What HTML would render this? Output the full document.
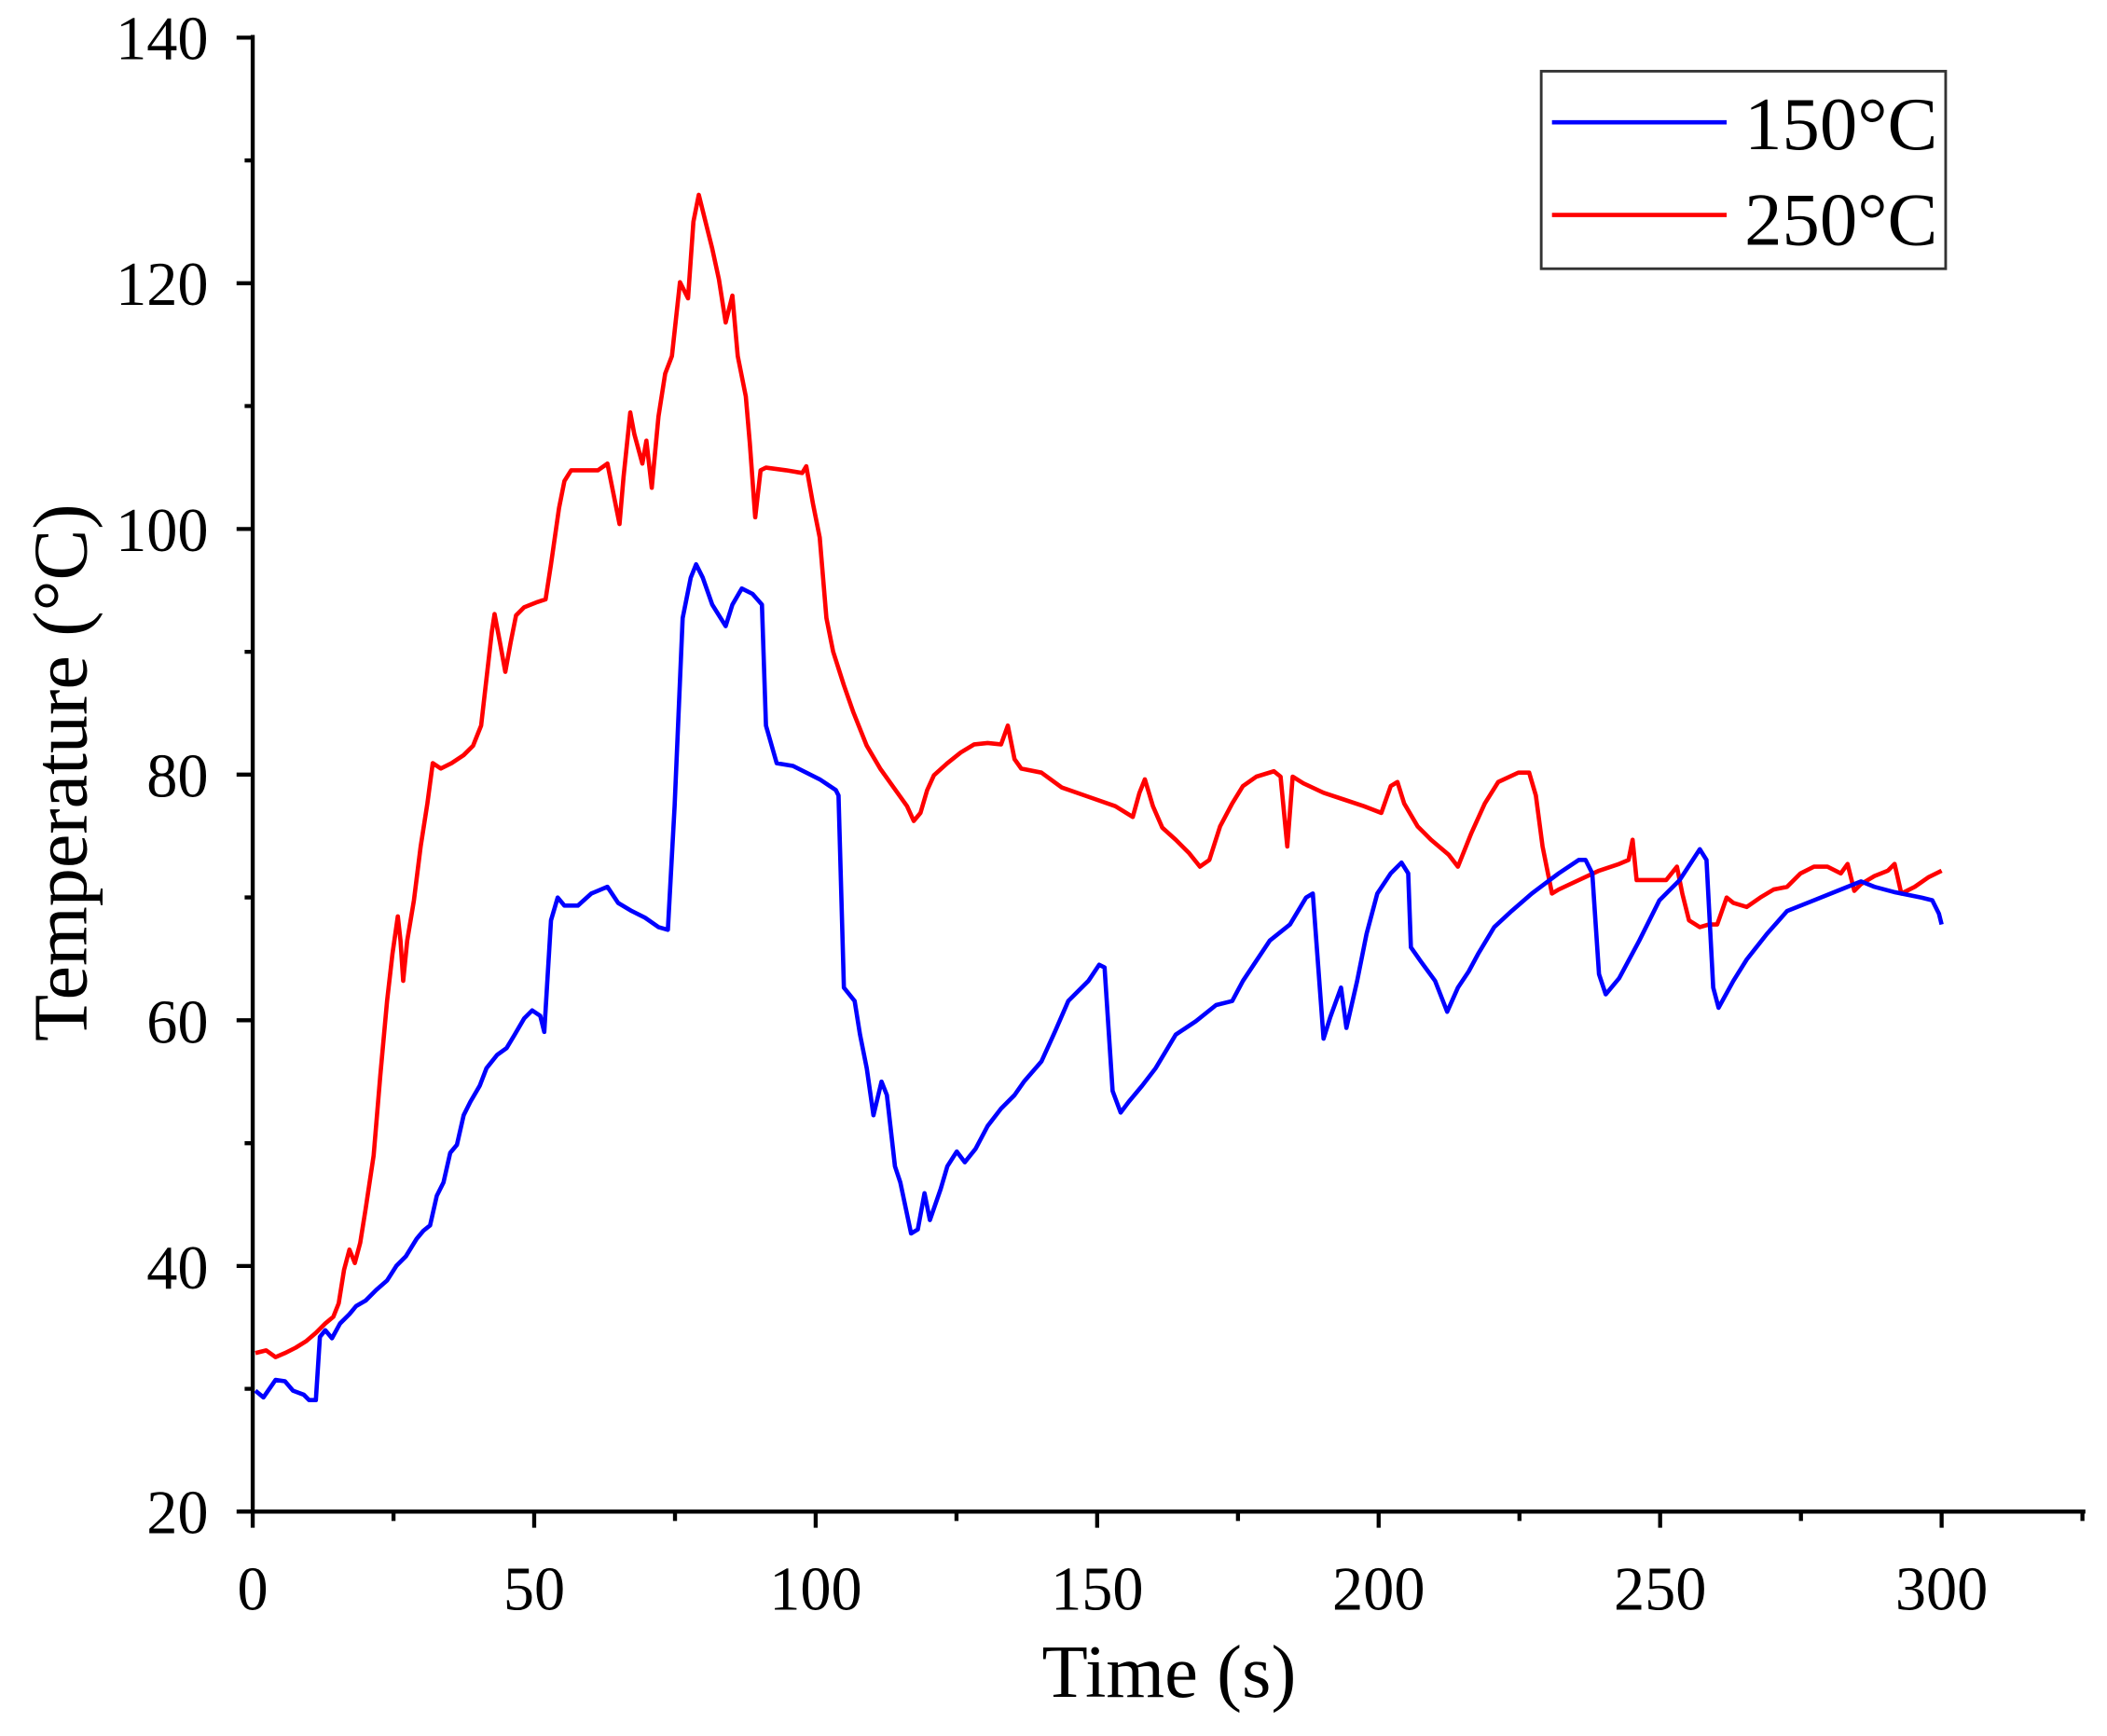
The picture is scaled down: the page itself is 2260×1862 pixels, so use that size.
<!DOCTYPE html>
<html><head><meta charset="utf-8"><style>
html,body{margin:0;padding:0;background:#fff;}
svg{display:block;}
text{font-family:"Liberation Serif",serif;fill:#000;}
</style></head><body>
<svg width="2260" height="1862" viewBox="0 0 1568 1292" xmlns="http://www.w3.org/2000/svg">
<rect width="1568" height="1292" fill="#fff"/>
<g stroke="#000" stroke-width="3" fill="none">
<line x1="188" y1="26" x2="188" y2="1126"/>
<line x1="178" y1="1125" x2="1552" y2="1125"/>
<path d="M176 28H188M176 210.8H188M176 393.7H188M176 576.5H188M176 759.3H188M176 942.2H188M176 1125H188"/>
<path d="M182 119.4H188M182 302.2H188M182 485.1H188M182 667.9H188M182 850.8H188M182 1033.6H188"/>
<path d="M188 1125V1137M397.5 1125V1137M607 1125V1137M816.5 1125V1137M1026 1125V1137M1235.5 1125V1137M1445 1125V1137"/>
<path d="M292.8 1125V1132M502.3 1125V1132M711.8 1125V1132M921.3 1125V1132M1130.8 1125V1132M1340.3 1125V1132M1549.8 1125V1132"/>
</g>
<g font-size="46" text-anchor="end">
<text x="155" y="44">140</text><text x="155" y="227">120</text><text x="155" y="410">100</text>
<text x="155" y="593">80</text><text x="155" y="776">60</text><text x="155" y="959">40</text><text x="155" y="1141">20</text>
</g>
<g font-size="46" text-anchor="middle">
<text x="188" y="1198">0</text><text x="397.5" y="1198">50</text><text x="607" y="1198">100</text>
<text x="816.5" y="1198">150</text><text x="1026" y="1198">200</text><text x="1235.5" y="1198">250</text><text x="1445" y="1198">300</text>
</g>
<text x="870" y="1263" font-size="56" text-anchor="middle">Time (s)</text>
<text transform="translate(64,575) rotate(-90)" font-size="57" text-anchor="middle">Temperature (°C)</text>
<polyline fill="none" stroke="#ff0000" stroke-width="3.2" stroke-linejoin="round" points="190,1007 198,1005 205,1010 212,1007 220,1003 228,998 235,992 242,985 248,980 252,970 256,945 260,930 264,940 268,925 272,900 278,860 283,800 288,745 292,710 296,682 298,700 300,730 303,700 308,670 313,630 318,598 322,568 328,572 336,568 345,562 352,555 358,540 362,505 366,470 368,457 372,478 376,500 380,478 384,458 390,452 400,448 406,446 410,420 416,378 420,358 425,350 435,350 445,350 452,345 456,365 461,390 464,355 469,307 472,323 478,345 481,328 485,363 490,310 495,278 500,265 506,210 512,222 516,165 520,145 525,165 530,185 535,208 540,240 545,220 549,265 555,295 558,330 562,385 566,350 570,348 585,350 597,352 600,347 605,375 610,400 615,460 620,485 628,510 635,530 645,555 655,572 665,586 675,600 680,611 685,605 690,588 695,577 705,568 715,560 725,554 735,553 745,554 750,540 755,565 760,572 775,575 790,586 810,593 830,600 843,608 848,590 852,580 858,600 865,616 875,625 885,635 893,645 900,640 908,615 917,598 925,585 935,578 948,574 953,578 958,630 962,578 970,583 985,590 1000,595 1015,600 1028,605 1035,585 1040,582 1045,598 1055,615 1065,625 1078,636 1085,645 1095,620 1105,598 1115,582 1130,575 1138,575 1143,592 1148,630 1155,665 1160,662 1175,655 1190,648 1205,643 1212,640 1215,625 1218,655 1225,655 1240,655 1248,645 1252,665 1257,685 1265,690 1272,688 1278,688 1285,668 1290,672 1300,675 1310,668 1320,662 1330,660 1340,650 1350,645 1360,645 1370,650 1375,643 1380,663 1385,658 1395,652 1405,648 1410,643 1415,665 1425,660 1435,653 1445,648"/>
<polyline fill="none" stroke="#0000ff" stroke-width="3.2" stroke-linejoin="round" points="190,1035 196,1040 205,1027 212,1028 218,1035 226,1038 230,1042 235,1042 238,995 242,990 247,996 253,985 260,978 265,972 272,968 280,960 288,953 295,942 302,935 310,922 315,916 320,912 325,890 330,880 335,858 340,852 345,830 350,820 357,808 362,795 370,785 377,780 383,770 390,758 396,752 402,756 405,768 410,685 415,668 420,674 430,674 440,665 452,660 460,672 470,678 480,683 490,690 497,692 502,600 508,460 514,430 518,420 523,430 530,450 540,466 545,450 552,438 560,442 567,450 570,540 578,568 590,570 600,575 610,580 622,588 624,592 628,735 636,745 640,770 645,795 650,830 656,805 660,815 666,868 670,880 678,918 683,915 688,888 692,908 700,885 705,868 712,857 718,865 726,855 735,838 745,825 755,815 762,805 775,790 785,768 795,745 810,730 818,718 822,720 828,812 834,828 840,820 850,808 860,795 875,770 890,760 905,748 917,745 925,730 935,715 945,700 960,688 972,668 977,665 985,773 990,757 998,735 1002,765 1010,730 1017,695 1025,665 1035,650 1043,642 1048,650 1050,705 1057,715 1068,730 1077,753 1085,735 1093,723 1100,710 1112,690 1125,678 1140,665 1160,650 1175,640 1180,640 1185,650 1190,725 1195,740 1205,728 1220,700 1235,670 1250,655 1265,632 1270,640 1275,735 1279,750 1290,730 1300,714 1315,695 1330,678 1350,670 1370,662 1385,656 1395,660 1410,664 1430,668 1438,670 1443,680 1445,688"/>
<rect x="1147" y="53" width="301" height="147" fill="#fff" stroke="#333" stroke-width="2"/>
<line x1="1155" y1="91" x2="1285" y2="91" stroke="#0000ff" stroke-width="3.2"/>
<line x1="1155" y1="160" x2="1285" y2="160" stroke="#ff0000" stroke-width="3.2"/>
<text x="1442" y="111" font-size="56" text-anchor="end">150°C</text>
<text x="1442" y="182" font-size="56" text-anchor="end">250°C</text>
</svg>
</body></html>
